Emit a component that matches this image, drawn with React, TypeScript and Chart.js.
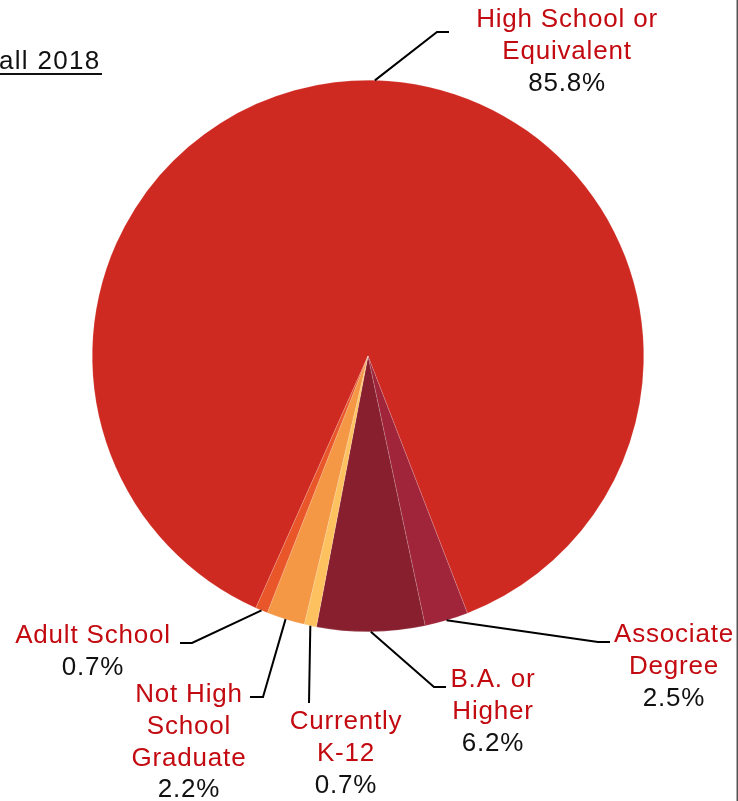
import React, { useEffect, useRef } from "react";
import { Chart, registerables } from "chart.js";

Chart.register(...registerables);

// ---- data ----
const categories = [
  "High School or Equivalent",
  "Associate Degree",
  "B.A. or Higher",
  "Currently K-12",
  "Not High School Graduate",
  "Adult School",
];
const values = [85.8, 2.5, 6.2, 0.7, 2.2, 0.7];
const percentLabels = ["85.8%", "2.5%", "6.2%", "0.7%", "2.2%", "0.7%"];
const labelLines = [
  ["High School or", "Equivalent"],
  ["Associate", "Degree"],
  ["B.A. or", "Higher"],
  ["Currently", "K-12"],
  ["Not High", "School", "Graduate"],
  ["Adult School"],
];
const titleText = "all 2018";

// ---- styles / layout (not data) ----
const sliceColors = ["#cf2a22", "#a0253a", "#881f2f", "#fdc25f", "#f49845", "#e8562a"];

type LabelLayout = {
  elbow: [number, number];
  end: [number, number];
  cx: number;
  baseline: number;
};
const labelLayout: LabelLayout[] = [
  { elbow: [437, 32], end: [449, 32], cx: 567, baseline: 27 },
  { elbow: [598, 642], end: [610, 642], cx: 674, baseline: 642 },
  { elbow: [434, 687], end: [446, 687], cx: 493, baseline: 687 },
  { elbow: [309, 703], end: [309, 703], cx: 346, baseline: 729 },
  { elbow: [263, 697], end: [250, 697], cx: 189, baseline: 702 },
  { elbow: [192, 643], end: [180, 643], cx: 93, baseline: 643 },
];
const LINE_H = 31.8;
const FONT = '26px "Liberation Sans", Arial, sans-serif';

const labelPlugin = {
  id: "pieLabels",
  afterDraw(chart: any) {
    const ctx = chart.ctx as CanvasRenderingContext2D;
    const meta = chart.getDatasetMeta(0);
    ctx.save();
    // connectors
    meta.data.forEach((arc: any, i: number) => {
      const p = arc.getProps(["x", "y", "startAngle", "endAngle", "outerRadius"], true);
      const mid = (p.startAngle + p.endAngle) / 2;
      const sx = p.x + p.outerRadius * Math.cos(mid);
      const sy = p.y + p.outerRadius * Math.sin(mid);
      const L = labelLayout[i];
      ctx.beginPath();
      ctx.strokeStyle = "#000";
      ctx.lineWidth = 2;
      ctx.moveTo(sx, sy);
      ctx.lineTo(L.elbow[0], L.elbow[1]);
      ctx.lineTo(L.end[0], L.end[1]);
      ctx.stroke();
    });
    // texts
    ctx.font = FONT;
    (ctx as any).letterSpacing = "0.8px";
    ctx.textAlign = "center";
    ctx.textBaseline = "alphabetic";
    labelLines.forEach((lines, i) => {
      const L = labelLayout[i];
      let y = L.baseline;
      ctx.fillStyle = "#c20a10";
      lines.forEach((t) => {
        ctx.fillText(t, L.cx, y);
        y += LINE_H;
      });
      ctx.fillStyle = "#111";
      ctx.fillText(percentLabels[i], L.cx, y);
    });
    // title (clipped at left)
    ctx.textAlign = "left";
    ctx.fillStyle = "#111";
    ctx.font = '26px "Liberation Sans", Arial, sans-serif';
    (ctx as any).letterSpacing = "1.3px";
    ctx.fillText(titleText, -1, 69);
    ctx.fillRect(0, 73, 102, 2);
    // right frame line
    ctx.fillStyle = "#555";
    ctx.fillRect(736.5, 0, 1.5, chart.height);
    ctx.restore();
  },
};

export default function App() {
  const ref = useRef<HTMLCanvasElement | null>(null);
  useEffect(() => {
    if (!ref.current) return;
    const chart = new Chart(ref.current, {
      type: "pie",
      data: {
        labels: categories,
        datasets: [
          {
            data: values,
            backgroundColor: sliceColors,
            borderColor: "rgba(255,255,255,0.3)",
            borderWidth: 0.5,
          },
        ],
      },
      options: {
        responsive: false,
        animation: false,
        rotation: 204,
        layout: { padding: { left: 92, right: 94, top: 80, bottom: 169 } },
        plugins: { legend: { display: false }, tooltip: { enabled: false } },
      },
      plugins: [labelPlugin],
    });
    return () => chart.destroy();
  }, []);
  return (
    <div style={{ position: "absolute", left: 0, top: 0, width: 738, height: 801, background: "#fff" }}>
      <canvas ref={ref} width={738} height={801} style={{ display: "block" }} />
    </div>
  );
}
